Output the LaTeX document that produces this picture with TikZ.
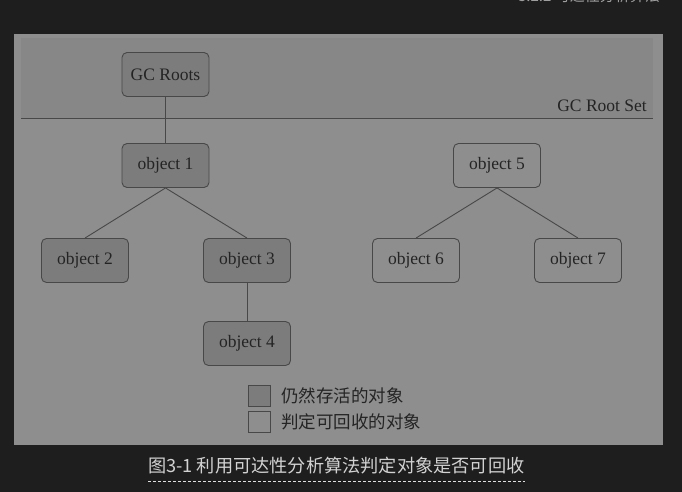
\documentclass[tikz,border=0pt]{standalone}
\usepackage{fontspec}
\setmainfont{Liberation Serif}
\newfontfamily\cjk{Noto Sans CJK SC}
\definecolor{pagebg}{HTML}{1E1E1E}
\definecolor{panelgray}{HTML}{8E8E8E}
\definecolor{bandgray}{HTML}{878787}
\definecolor{livegray}{HTML}{7C7C7C}
\definecolor{edgegray}{HTML}{484848}
\definecolor{inkgray}{HTML}{242424}
\definecolor{capgray}{HTML}{D2D2D2}
\begin{document}
\begin{tikzpicture}[x=1pt, y=-1pt, font=\fontsize{17.5}{20}\selectfont]
\tikzset{obj/.style={draw=edgegray, line width=0.9pt, text=inkgray, rounded corners=5pt,
    minimum width=87pt, minimum height=44pt, inner sep=0pt},
  live/.style={obj, fill=livegray},
  dead/.style={obj, fill=panelgray},
  legbox/.style={draw=edgegray, line width=0.9pt, minimum width=22pt, minimum height=21pt, inner sep=0pt},
  legtext/.style={anchor=west, inner sep=0pt, text=inkgray, font=\cjk\fontsize{17.5}{19}\selectfont},
  link/.style={draw=edgegray, line width=0.9pt}}

\useasboundingbox (0,0) rectangle (682,492);
\fill[pagebg] (0,0) rectangle (682,492);
\node[anchor=base east, inner sep=0pt, text=gray!75, font=\cjk\fontsize{15}{17}\selectfont] (hdr) at (660,2) {3.2.2 可达性分析算法};

% panel and root set band
\fill[panelgray] (14,34) rectangle (663,445);
\fill[bandgray] (21,38) rectangle (653,118);
\draw[edgegray, line width=1pt] (21,118.5) -- (653,118.5);
\node[anchor=base east, inner sep=0pt, text=inkgray] (rootset) at (647,112) {GC Root Set};

% reachable objects
\node[live] (roots) at (165.5,74.5) {GC Roots};
\node[live] (obj1) at (165.5,165.5) {object 1};
\node[live] (obj2) at (85,260.5) {object 2};
\node[live] (obj3) at (247,260.5) {object 3};
\node[live] (obj4) at (247,343.5) {object 4};

% unreachable objects
\node[dead] (obj5) at (497,165.5) {object 5};
\node[dead] (obj6) at (416,260.5) {object 6};
\node[dead] (obj7) at (578,260.5) {object 7};

\draw[link] (roots.south) -- (obj1.north);
\draw[link] (obj1.south) -- (obj2.north);
\draw[link] (obj1.south) -- (obj3.north);
\draw[link] (obj3.south) -- (obj4.north);
\draw[link] (obj5.south) -- (obj6.north);
\draw[link] (obj5.south) -- (obj7.north);

% legend
\node[legbox, fill=livegray] (legA) at (259,395.5) {};
\node[legbox, fill=panelgray] (legB) at (259,421.5) {};
\node[legtext] (legAtxt) at (281,396) {仍然存活的对象};
\node[legtext] (legBtxt) at (281,422) {判定可回收的对象};

% caption
\node[anchor=west, inner sep=0pt, text=capgray, font=\cjk\fontsize{18.2}{20}\selectfont] (cap) at (148,466) {图3-1 利用可达性分析算法判定对象是否可回收};
\draw[capgray!70, dashed, line width=0.6pt, dash pattern=on 3pt off 2pt] (cap.west |- 0,481) -- (cap.east |- 0,481);

\end{tikzpicture}
\end{document}
